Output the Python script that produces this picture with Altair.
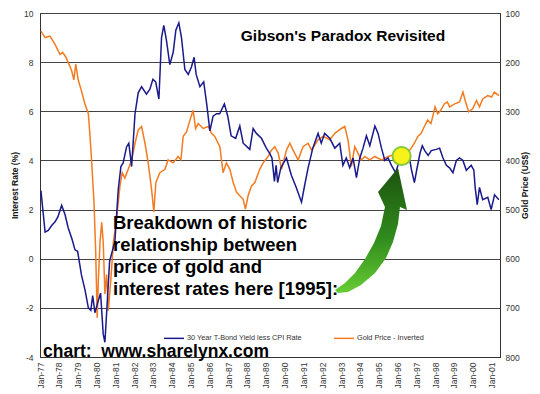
import altair as alt
import pandas as pd

FONT = "Liberation Sans"

# 30 Year T-Bond yield less CPI (%) (decimal years)
bond_year = [1977.05, 1977.27, 1977.44, 1977.62, 1977.8, 1977.95, 1978.15, 1978.33, 1978.5, 1978.7,
             1978.86, 1979.0, 1979.2, 1979.4, 1979.57, 1979.7, 1979.8, 1979.92, 1980.1, 1980.22,
             1980.36, 1980.45, 1980.58, 1980.7, 1980.98, 1981.16, 1981.3, 1981.42, 1981.6, 1981.72,
             1981.87, 1982.05, 1982.22, 1982.4, 1982.66, 1982.84, 1983.0, 1983.15, 1983.32, 1983.46,
             1983.58, 1983.72, 1983.9, 1984.08, 1984.22, 1984.38, 1984.52, 1984.7, 1984.88, 1985.05,
             1985.19, 1985.3, 1985.5, 1985.7, 1985.86, 1986.03, 1986.2, 1986.38, 1986.55, 1986.8,
             1986.98, 1987.16, 1987.4, 1987.62, 1987.8, 1988.15, 1988.33, 1988.5, 1988.77, 1989.03,
             1989.2, 1989.33, 1989.46, 1989.55, 1989.63, 1989.8, 1990.1, 1990.36, 1990.62, 1990.9,
             1991.07, 1991.25, 1991.5, 1991.78, 1991.95, 1992.13, 1992.4, 1992.67, 1992.93, 1993.1,
             1993.28, 1993.46, 1993.64, 1993.82, 1994.0, 1994.17, 1994.35, 1994.53, 1994.8, 1994.97,
             1995.15, 1995.33, 1995.5, 1995.68, 1995.9, 1996.2, 1996.45, 1996.66, 1996.75, 1996.9,
             1997.02, 1997.2, 1997.32, 1997.45, 1997.63, 1997.8, 1998.06, 1998.24, 1998.42, 1998.6,
             1998.77, 1998.95, 1999.13, 1999.3, 1999.48, 1999.66, 1999.92, 2000.06, 2000.13, 2000.24,
             2000.36, 2000.53, 2000.8, 2000.98, 2001.16, 2001.39]
bond_rate = [2.77, 1.08, 1.15, 1.35, 1.5, 1.7, 2.17, 1.8, 1.25, 0.8,
             0.36, 0.3, -0.65, -1.3, -2.0, -2.1, -1.5, -2.2, -1.7, -1.4,
             -3.07, -3.4, -1.7, -0.1, 0.7, 2.82, 3.75, 3.9, 4.55, 4.7,
             3.75, 5.9, 6.75, 7.0, 6.7, 6.9, 7.3, 7.2, 6.5, 9.0,
             9.5, 8.9, 7.9, 8.4, 9.3, 9.6, 9.0, 7.7, 7.5, 7.8,
             8.2, 7.5, 7.0, 7.2, 6.3, 5.2, 5.8, 5.9, 5.9, 6.3,
             5.8, 5.0, 4.9, 5.4, 4.7, 4.45, 5.3, 5.1, 4.9, 4.5,
             4.3, 4.1, 3.15, 3.8, 3.1, 3.7, 4.1, 3.4, 2.9, 2.3,
             3.0, 3.7, 4.5, 5.1, 4.7, 5.1, 4.9, 4.5, 4.7, 3.8,
             4.1, 3.7, 4.1, 3.3, 4.1, 4.5, 5.0, 4.6, 5.4, 5.1,
             4.5, 4.0, 4.1, 3.8, 3.5, 4.2, 4.4, 4.0, 3.6, 3.1,
             3.6, 4.3, 4.6, 4.4, 4.2, 4.4, 4.45, 4.5, 4.1, 3.8,
             3.7, 3.5, 4.0, 4.1, 4.0, 3.6, 3.8, 3.6, 2.9, 2.2,
             2.9, 2.4, 2.5, 2.0, 2.6, 2.4]

# Gold price (US$), plotted on an inverted right axis
gold_year = [1977.05, 1977.27, 1977.53, 1977.8, 1978.06, 1978.2, 1978.38, 1978.68, 1978.8, 1978.9,
             1979.03, 1979.2, 1979.38, 1979.57, 1979.66, 1979.75, 1979.87, 1979.96, 1980.04, 1980.1,
             1980.19, 1980.28, 1980.36, 1980.45, 1980.54, 1980.63, 1980.77, 1980.9, 1981.07, 1981.25,
             1981.37, 1981.51, 1981.69, 1981.87, 1982.05, 1982.22, 1982.4, 1982.58, 1982.75, 1982.93,
             1983.05, 1983.16, 1983.37, 1983.64, 1983.81, 1984.08, 1984.34, 1984.49, 1984.61, 1984.79,
             1984.97, 1985.14, 1985.27, 1985.41, 1985.67, 1985.94, 1986.12, 1986.29, 1986.56, 1986.73,
             1986.91, 1987.09, 1987.27, 1987.45, 1987.62, 1987.8, 1987.92, 1988.06, 1988.24, 1988.42,
             1988.68, 1988.86, 1989.12, 1989.3, 1989.48, 1989.66, 1989.84, 1990.1, 1990.28, 1990.45,
             1990.72, 1990.98, 1991.25, 1991.43, 1991.78, 1992.05, 1992.4, 1992.67, 1993.02, 1993.2,
             1993.37, 1993.55, 1993.73, 1993.9, 1994.08, 1994.26, 1994.53, 1994.79, 1995.15, 1995.5,
             1995.85, 1996.2, 1996.66, 1996.9, 1997.08, 1997.26, 1997.43, 1997.6, 1997.78, 1998.0,
             1998.14, 1998.3, 1998.49, 1998.65, 1998.77, 1999.04, 1999.3, 1999.48, 1999.6, 1999.78,
             2000.0, 2000.2, 2000.36, 2000.53, 2000.8, 2001.0, 2001.15, 2001.4]
gold_price = [137, 150, 147, 164, 184, 180, 190, 217, 236, 204,
              236, 258, 284, 305, 351, 405, 485, 586, 720, 646,
              566, 526, 566, 672, 632, 706, 640, 566, 519, 452,
              425, 436, 418, 399, 365, 338, 331, 365, 405, 459,
              505, 445, 425, 418, 399, 405, 392, 399, 351, 342,
              318, 298, 335, 325, 335, 331, 345, 351, 372, 425,
              405, 418, 445, 465, 472, 479, 499, 472, 452, 445,
              418, 405, 392, 379, 372, 385, 418, 379, 365, 379,
              399, 372, 365, 379, 358, 351, 358, 345, 335, 331,
              358, 412, 372, 385, 399, 392, 399, 392, 399, 392,
              388, 385, 379, 365, 351, 345, 331, 318, 325, 291,
              305, 298, 285, 281, 291, 285, 281, 261, 278, 301,
              295, 278, 291, 275, 268, 271, 261, 268]

year_ticks = list(range(1977, 2002))
rate_ticks = [-4, -2, 0, 2, 4, 6, 8, 10]
gold_ticks = [100, 200, 300, 400, 500, 600, 700, 800]

SERIES = ["30 Year T-Bond Yield less CPI Rate", "Gold Price - Inverted"]
COLORS = ["#1a1a8c", "#f47b20"]

TITLE = "Gibson's Paradox Revisited"
ANNOTATION = ["Breakdown of historic", "relationship between", "price of gold and",
              "interest rates here [1995]:"]
WATERMARK = "chart: \u00a0www.sharelynx.com"
HIGHLIGHT = {"year": [1996.22], "rate": [4.18]}

# arrow outline (pixel offsets around its centre)
ARROW_CENTER = (331, 217)
ARROW_SCALE = 65
ARROW_PTS = [(335, 290), (345, 283), (355, 273), (365, 259), (374, 243), (381, 226), (385, 207),
             (378, 192), (398, 168), (407, 210), (400, 207), (398, 224), (393, 242), (386, 258),
             (375, 273), (361, 285), (348, 292), (338, 293)]
arrow_path = "M" + " L".join(
    f"{(px - 371) / ARROW_SCALE:.3f},{(py - 230) / ARROW_SCALE:.3f}" for px, py in ARROW_PTS) + " Z"

W, H = 460, 344

bond = pd.DataFrame({"year": bond_year, "rate": bond_rate, "series": SERIES[0]})
gold = pd.DataFrame({"year": gold_year, "price": gold_price, "series": SERIES[1]})

x_scale = alt.Scale(domain=[1977, 2001.45], nice=False, zero=False)
x_axis_def = alt.Axis(values=year_ticks, labelExpr="'Jan-' + slice(toString(datum.value), 2)",
                      labelAngle=270, labelAlign="right", labelBaseline="middle", labelFontSize=8.5,
                      labelColor="#333", ticks=False, grid=False, title=None, domainColor="#333",
                      labelPadding=5, labelOverlap=False, labelSeparation=0, labelBound=False,
                      labelFlush=False)


def x_enc():
    return alt.X("year:Q", scale=x_scale, axis=x_axis_def)


color_enc = alt.Color(
    "series:N",
    scale=alt.Scale(domain=SERIES, range=COLORS),
    legend=alt.Legend(orient="none", legendX=123, legendY=314, direction="horizontal", title=None,
                      symbolType="stroke", symbolSize=400, symbolStrokeWidth=1.5, labelFontSize=7.3,
                      labelColor="#333", columnPadding=28, labelOffset=2, columns=2),
)

gold_line = alt.Chart(gold).mark_line(strokeWidth=1.5).encode(
    x=x_enc(),
    y=alt.Y("price:Q", scale=alt.Scale(domain=[100, 800], reverse=True, nice=False, zero=False),
            axis=alt.Axis(orient="right", values=gold_ticks, title="Gold Price (US$)", grid=False,
                          ticks=False, labelFontSize=8.5, labelColor="#333", labelPadding=5,
                          titleFontSize=8.5, titleFontWeight="bold", titleColor="#111",
                          titleAngle=270, titlePadding=10, domainColor="#333")),
    color=color_enc,
)

y_rate = alt.Y("rate:Q", scale=alt.Scale(domain=[-4, 10], nice=False, zero=False),
               axis=alt.Axis(values=rate_ticks, labelExpr="toString(datum.value)",
                             title="Interest Rate (%)", grid=True, gridColor="#444",
                             gridOpacity=1, ticks=False, labelFontSize=8.5, labelColor="#333",
                             labelPadding=7, titleFontSize=8.5, titleFontWeight="bold",
                             titleColor="#111", titlePadding=4, domainColor="#333"))

bond_line = alt.Chart(bond).mark_line(strokeWidth=1.5).encode(x=x_enc(), y=y_rate, color=color_enc)

circle = alt.Chart(pd.DataFrame(HIGHLIGHT)).mark_point(
    filled=True, fill="#f7f31a", stroke="#86c83a", strokeWidth=2, size=330, opacity=1
).encode(x=x_enc(), y=y_rate)

title = alt.Chart(pd.DataFrame({"t": [TITLE]})).mark_text(
    font=FONT, fontSize=15.5, fontWeight="bold", align="center", baseline="middle", color="black"
).encode(x=alt.value(303), y=alt.value(23), text="t:N")

annot = alt.Chart(pd.DataFrame({"t": ["\n".join(ANNOTATION)]})).mark_text(
    font=FONT, fontSize=18.5, fontWeight="bold", align="left", baseline="alphabetic",
    color="black", lineBreak="\n", lineHeight=22
).encode(x=alt.value(73), y=alt.value(216), text="t:N")

watermark = alt.Chart(pd.DataFrame({"t": [WATERMARK]})).mark_text(
    font=FONT, fontSize=17.5, fontWeight="bold", align="left", baseline="alphabetic", color="black"
).encode(x=alt.value(3), y=alt.value(344), text="t:N")

arrow = alt.Chart(pd.DataFrame({"a": [1]})).mark_point(
    shape=arrow_path, filled=True, size=(2 * ARROW_SCALE) ** 2, opacity=1, strokeWidth=0,
    fill=alt.Gradient(gradient="linear", x1=0, y1=0, x2=0, y2=1,
                      stops=[alt.GradientStop(offset=0, color="#1d5210"),
                             alt.GradientStop(offset=0.55, color="#2f8a1c"),
                             alt.GradientStop(offset=1, color="#66cc33")])
).encode(x=alt.value(ARROW_CENTER[0]), y=alt.value(ARROW_CENTER[1]))

left = alt.layer(bond_line, circle, title, annot, watermark, arrow)

chart = alt.layer(gold_line, left).resolve_scale(y="independent").properties(
    width=W, height=H,
    autosize=alt.AutoSizeParams(type="none"),
    padding={"left": 32, "top": 5, "right": 32, "bottom": 37},
    background="white",
).configure_view(stroke="#333", strokeWidth=1).configure_axis(
    labelFont=FONT, titleFont=FONT
).configure_axisX(labelOverlap=False).configure_legend(labelFont=FONT)

chart.save("out.html", embed_options={"renderer": "svg", "actions": False})
